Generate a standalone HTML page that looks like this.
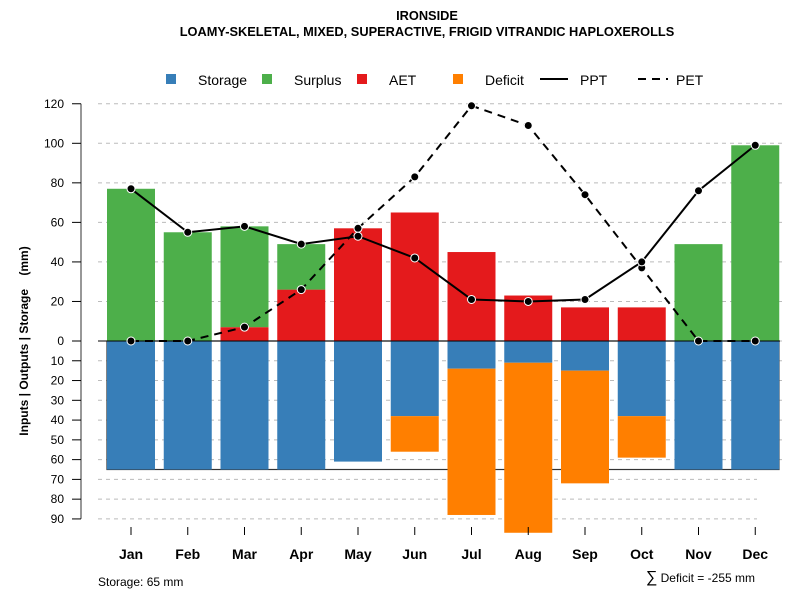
<!DOCTYPE html>
<html><head><meta charset="utf-8"><style>
body{margin:0;background:#fff;font-family:"Liberation Sans",sans-serif}
svg text{font-family:"Liberation Sans",sans-serif}
</style></head><body>
<svg id="c" width="800" height="600" xmlns="http://www.w3.org/2000/svg">
<text x="427" y="20" text-anchor="middle" font-size="12.8" font-weight="bold">IRONSIDE</text>
<text x="427" y="36" text-anchor="middle" font-size="12.8" font-weight="bold">LOAMY-SKELETAL, MIXED, SUPERACTIVE, FRIGID VITRANDIC HAPLOXEROLLS</text>
<g id="legend">
<rect x="166" y="74" width="10" height="10" fill="#377EB8"/>
<text x="198" y="85" font-size="14">Storage</text>
<rect x="262" y="74" width="10" height="10" fill="#4DAF4A"/>
<text x="294" y="85" font-size="14">Surplus</text>
<rect x="357" y="74" width="10" height="10" fill="#E41A1C"/>
<text x="389" y="85" font-size="14">AET</text>
<rect x="453" y="74" width="10" height="10" fill="#FF7F00"/>
<text x="485" y="85" font-size="14">Deficit</text>
<line x1="540" y1="79" x2="568" y2="79" stroke="#000" stroke-width="2"/>
<text x="580" y="85" font-size="14">PPT</text>
<line x1="638" y1="79" x2="668" y2="79" stroke="#000" stroke-width="2" stroke-dasharray="8,6"/>
<text x="676" y="85" font-size="14">PET</text>
</g>
<text transform="translate(28,341) rotate(-90)" text-anchor="middle" font-size="12" font-weight="bold" style="white-space:pre" xml:space="preserve">Inputs | Outputs | Storage    (mm)</text>
<text x="98" y="586" font-size="12">Storage: 65 mm</text>
<text x="755" y="582" text-anchor="end" font-size="12"><tspan font-size="16">∑</tspan> Deficit = -255 mm</text>
<g id="plot"></g>
</svg>
<script>
const months=["Jan","Feb","Mar","Apr","May","Jun","Jul","Aug","Sep","Oct","Nov","Dec"];
const ppt=[77,55,58,49,53,42,21,20,21,40,76,99];
const pet=[0,0,7,26,57,83,119,109,74,37,0,0];
const aet=[0,0,7,26,57,65,45,23,17,17,0,0];
const surplus=[77,55,51,23,0,0,0,0,0,0,49,99];
const storage=[65,65,65,65,61,38,14,11,15,38,65,65];
const deficit=[0,0,0,0,0,18,74,86,57,21,0,0];
const upTicks=[0,20,40,60,80,100,120];
const downTicks=[10,20,30,40,50,60,70,80,90];
const storageCap=65;
const NS="http://www.w3.org/2000/svg";
const g=document.getElementById('plot');
const y0=341,k=1.977;
const yUp=v=>y0-v*k, yDn=v=>y0+v*k;
const xC=i=>131+i*56.75;
const bw=48;
function mk(t,a){const e=document.createElementNS(NS,t);for(const q in a)e.setAttribute(q,a[q]);g.appendChild(e);return e;}
let e=mk('line',{x1:81,y1:yUp(120),x2:81,y2:yDn(90),stroke:'#777',"stroke-width":1.5});


upTicks.forEach(v=>{
 let l=mk('line',{x1:98,x2:782,y1:yUp(v),y2:yUp(v),stroke:'#bbb',"stroke-dasharray":"4,4"});
 
 
 let t=mk('line',{x1:72,x2:81,y1:yUp(v),y2:yUp(v),stroke:'#000'});
 
 
 let tx=mk('text',{x:64,y:yUp(v)+4,"text-anchor":"end","font-size":12});tx.textContent=v;
 
 
});
downTicks.forEach(v=>{
 let l=mk('line',{x1:98,x2:v>=70?757:782,y1:yDn(v),y2:yDn(v),stroke:'#bbb',"stroke-dasharray":"4,4"});
 
 
 let t=mk('line',{x1:72,x2:81,y1:yDn(v),y2:yDn(v),stroke:'#000'});
 
 
 let tx=mk('text',{x:64,y:yDn(v)+4,"text-anchor":"end","font-size":12});tx.textContent=v;
 
 
});
e=mk('rect',{x:107,y:y0,width:672,height:storageCap*k,fill:'none',stroke:'#333',"stroke-width":1.2});


months.forEach((m,i)=>{
 const x=xC(i)-bw/2;
 let r=mk('rect',{x:x,y:y0,width:bw,height:storage[i]*k,fill:'#377EB8'});
 
 
 if(deficit[i]>0){r=mk('rect',{x:x,y:yDn(storage[i]),width:bw,height:deficit[i]*k,fill:'#FF7F00'});
 
 }
 if(aet[i]>0){r=mk('rect',{x:x,y:yUp(aet[i]),width:bw,height:aet[i]*k,fill:'#E41A1C'});
 
 }
 if(surplus[i]>0){r=mk('rect',{x:x,y:yUp(aet[i]+surplus[i]),width:bw,height:surplus[i]*k,fill:'#4DAF4A'});
 
 }
 let t=mk('line',{x1:xC(i),x2:xC(i),y1:527,y2:535,stroke:'#000'});
 
 
 let tx=mk('text',{x:xC(i),y:559,"text-anchor":"middle","font-size":14,"font-weight":"bold"});tx.textContent=m;
 
 
});
e=mk('line',{x1:98,x2:780,y1:y0,y2:y0,stroke:'#000',"stroke-width":1});


function series(arr,name,dash){
 const p=mk('polyline',{points:arr.map((v,i)=>xC(i)+','+yUp(v)).join(' '),fill:'none',stroke:'#000',"stroke-width":2,"stroke-dasharray":dash});
 
 
 arr.forEach((v,i)=>{const c=mk('circle',{cx:xC(i),cy:yUp(v),r:4,fill:'#000',stroke:'#fff',"stroke-width":1});
 
 });
}
series(pet,'pet','8,6');
series(ppt,'ppt','none');
</script>
</body></html>
